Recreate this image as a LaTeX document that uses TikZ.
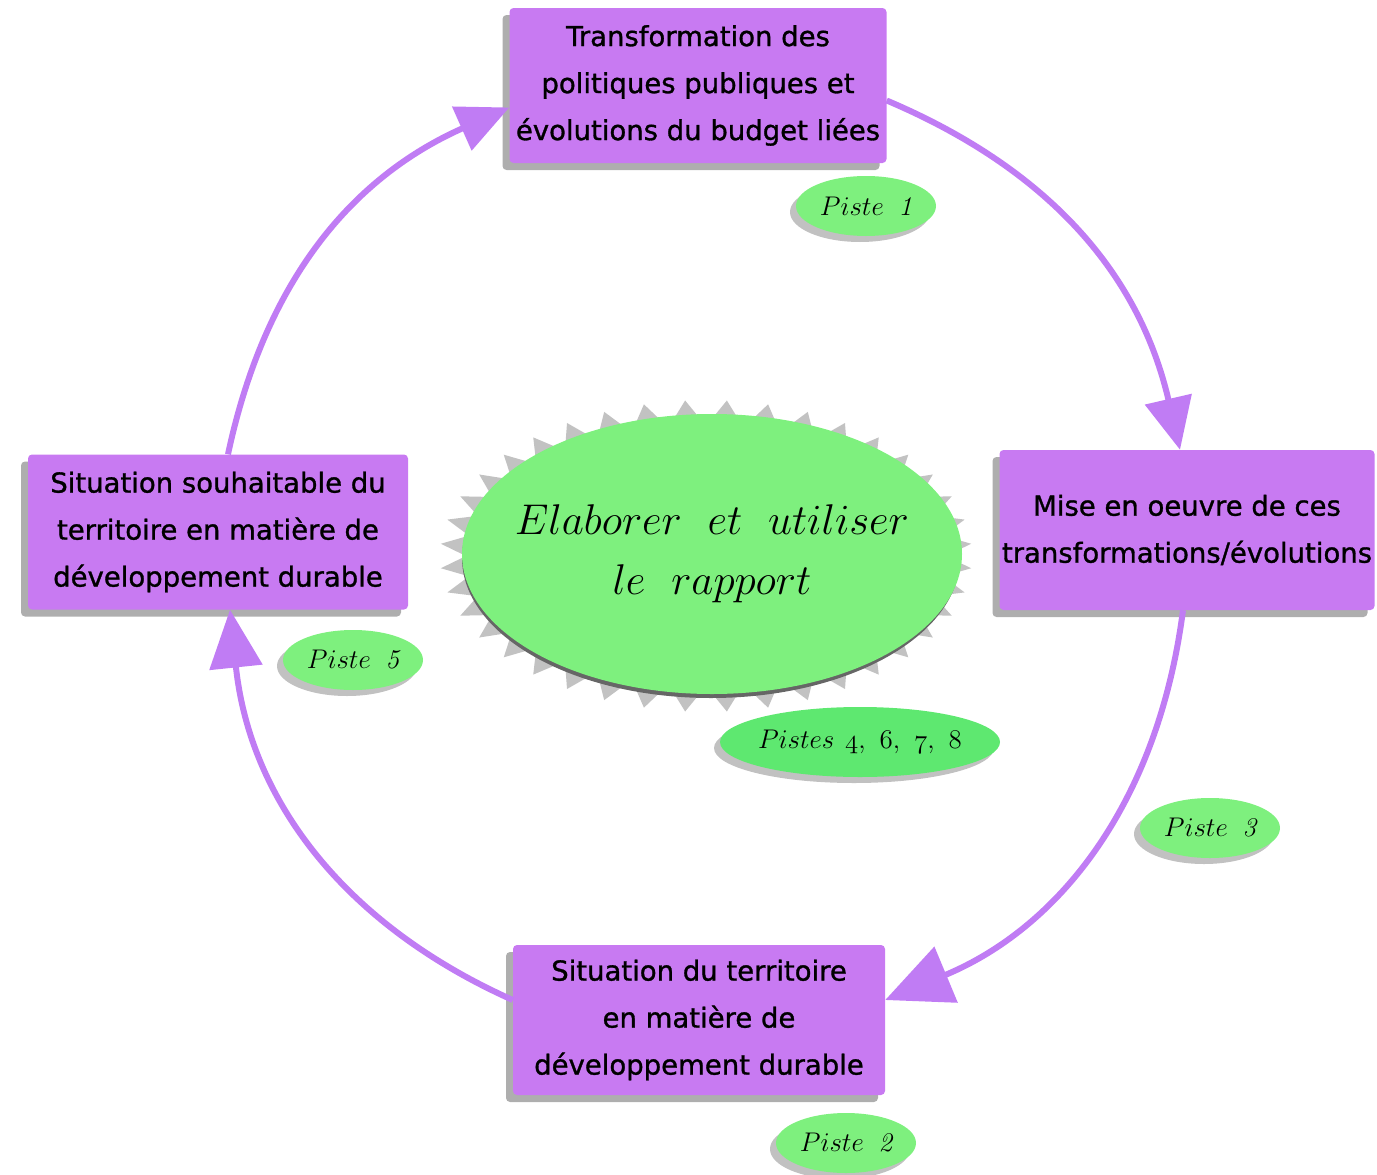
\RequirePackage{fix-cm}
\documentclass[tikz,border=0pt]{standalone}
\usepackage{fontspec}
\newfontfamily\boxfont{DejaVu Sans}[FakeBold=1.1]
\usetikzlibrary{arrows.meta,shadows,shapes.geometric}
\definecolor{boxpurple}{HTML}{C87AF2}
\definecolor{arrowpurple}{HTML}{C07CF4}
\definecolor{pistegreen}{HTML}{7EF07E}
\definecolor{pistesgreen}{HTML}{5EE870}
\newcommand\esp{\hspace{0.55em}}

\begin{document}
\begin{tikzpicture}[x=1pt,y=-1pt,
  etape/.style={rectangle, rounded corners=4pt, fill=boxpurple, align=center, inner sep=0pt,
    font=\boxfont\fontsize{27.5}{47}\selectfont,
    drop shadow={shadow xshift=-7pt, shadow yshift=-7pt, opacity=0.45, fill=black!70}},
  piste/.style={ellipse, fill=pistegreen, inner sep=0pt, minimum width=140pt, minimum height=60pt,
    font=\fontsize{27}{30}\selectfont,
    drop shadow={shadow xshift=-6pt, shadow yshift=-6pt, opacity=0.35, fill=black!70}},
  boucle/.style={line width=6pt, draw=arrowpurple, bend left=#1},
  tete/.style={-{Triangle[length=#1pt, width=0.9*#1pt]}}]

\useasboundingbox (0,0) rectangle (1377,1175);

% les quatre etapes du cycle
\node (topbox) [etape, minimum width=377pt, minimum height=155pt] at (698,85.5)
  {Transformation des\\politiques publiques et\\évolutions du budget liées};
\node (rightbox) [etape, minimum width=375pt, minimum height=160pt] at (1187,530)
  {Mise en oeuvre de ces\\transformations/évolutions};
\node (bottombox) [etape, minimum width=372pt, minimum height=150pt] at (699,1020)
  {Situation du territoire\\en matière de\\développement durable};
\node (leftbox) [etape, minimum width=380pt, minimum height=155pt] at (218,532)
  {Situation souhaitable du\\territoire en matière de\\développement durable};

% fleches du cycle
\draw [boucle=27, tete=52] ([xshift=10pt]leftbox.north) to ([yshift=-22pt]topbox.west);
\draw [boucle=27, tete=52] ([yshift=-15pt]topbox.east) to ([xshift=-7pt]rightbox.north);
\draw [boucle=30, tete=66] ([xshift=-4pt]rightbox.south) to ([yshift=20pt]bottombox.east);
\draw [boucle=30, tete=58] ([yshift=20pt]bottombox.west) to ([xshift=12pt]leftbox.south);

% ombre etoilee de l'ellipse centrale
\fill [black!24] (946,556) \foreach \a in {0,9,...,351} {
  -- ({706+240*cos(\a)},{556+130*sin(\a)}) -- ({706+266*cos(\a+4.5)},{556+156*sin(\a+4.5)}) } -- cycle;
\fill [black!60] (711,558) ellipse (249 and 140);
\node (rapport) [ellipse, fill=pistegreen, inner xsep=-40pt, inner ysep=0pt,
  minimum width=500pt, minimum height=280pt,
  align=center, font=\fontsize{43}{60}\selectfont] at (712,554)
  {$Elaborer\hspace{0.6em}et\hspace{0.6em}utiliser$\\$le\hspace{0.6em}rapport$};

% les pistes
\node (piste1) [piste] at (866,206) {$Piste\esp\mathit{1}$};
\node (piste5) [piste] at (353,660) {$Piste\esp\mathit{5}$};
\node (piste3) [piste] at (1210,828) {$Piste\esp\mathit{3}$};
\node (piste2) [piste] at (846,1143) {$Piste\esp\mathit{2}$};
\node (pistesmid) [piste, fill=pistesgreen, inner xsep=-6pt, minimum width=280pt, minimum height=70pt] at (860,742)
  {$Pistes\hspace{0.4em}\mathnormal{4},\hspace{0.35em}\mathnormal{6},\hspace{0.35em}\mathnormal{7},\hspace{0.35em}\mathnormal{8}$};

\end{tikzpicture}
\end{document}
